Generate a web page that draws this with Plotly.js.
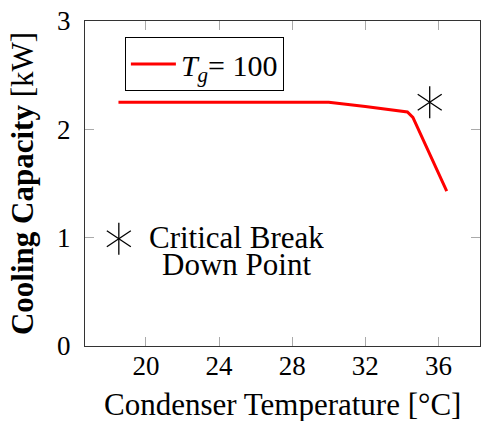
<!DOCTYPE html>
<html>
<head>
<meta charset="utf-8">
<script src="https://cdn.plot.ly/plotly-3.0.1.min.js"></script>
<style>html,body{margin:0;padding:0;background:#fff;}#chart{width:481px;height:421px;}</style>
</head>
<body>
<div id="chart"></div>
<script>
// Data
const condTemp = [18.5, 30.0, 32.0, 34.3, 34.6, 36.45];
const coolingCap = [2.25, 2.25, 2.21, 2.16, 2.11, 1.43];
const breakX = [35.52];
const breakY = [2.25];
const keyX = [18.52];
const keyY = [0.99];
const xTicks = [20, 24, 28, 32, 36];
const yTicks = [0, 1, 2, 3];
const seriesName = '<i>T</i><sub><i>g</i></sub>= 100';
const xTitle = 'Condenser Temperature [°C]';
const yTitle = '<b>Cooling Capacity</b> [kW]';
const noteLines = ['Critical Break', 'Down Point'];

const FONT = "Liberation Serif";

const starMarker = (sym) => ({symbol: sym, size: 20, color: '#000', line: {color: '#000', width: 1.3}});

const traces = [
  {x: condTemp, y: coolingCap, type: 'scatter', mode: 'lines', name: seriesName,
   line: {color: '#ff0000', width: 3}},
  {x: breakX.concat(keyX), y: breakY.concat(keyY), type: 'scatter', mode: 'markers', showlegend: false,
   marker: starMarker('y-up-open'), hoverinfo: 'skip'},
  {x: breakX.concat(keyX), y: breakY.concat(keyY), type: 'scatter', mode: 'markers', showlegend: false,
   marker: starMarker('y-down-open'), hoverinfo: 'skip'}
];

const layout = {
  width: 481, height: 421,
  margin: {l: 85, r: 1, t: 21, b: 75},
  paper_bgcolor: '#fff', plot_bgcolor: '#fff',
  font: {family: FONT, color: '#000', size: 27},
  showlegend: true,
  legend: {x: 0.101, y: 0.951, xanchor: 'left', yanchor: 'top', itemwidth: 45,
           bordercolor: '#000', borderwidth: 1, bgcolor: '#fff',
           font: {family: FONT, size: 30, color: '#000'}},
  xaxis: {
    range: [16.67, 38.27], tickvals: xTicks, ticktext: xTicks.map(String),
    ticks: 'inside', ticklen: 9, tickcolor: '#aaa', tickwidth: 1,
    showline: true, linecolor: '#333', linewidth: 1, mirror: 'ticks',
    showgrid: false, zeroline: false, ticklabelstandoff: -4,
    tickfont: {family: FONT, size: 27, color: '#000'}
  },
  yaxis: {
    range: [0, 3], tickvals: yTicks, ticktext: yTicks.map(String),
    ticks: 'inside', ticklen: 9, tickcolor: '#aaa', tickwidth: 1,
    showline: true, linecolor: '#333', linewidth: 1, mirror: 'ticks',
    showgrid: false, zeroline: false, ticklabelstandoff: 8,
    tickfont: {family: FONT, size: 27, color: '#000'},
    title: {text: yTitle, font: {family: FONT, size: 31, color: '#000'}, standoff: 14}
  },
  annotations: [
    {x: 0.5, y: -0.2308, xref: 'paper', yref: 'paper', text: xTitle, showarrow: false,
     xanchor: 'center', yanchor: 'bottom', yshift: -3, font: {family: FONT, size: 31, color: '#000'}},
    {x: 24.97, y: 1.0, xref: 'x', yref: 'y', text: noteLines[0], showarrow: false, height: 27,
     xanchor: 'center', yanchor: 'middle', font: {family: FONT, size: 31, color: '#000'}},
    {x: 24.97, y: 0.753, xref: 'x', yref: 'y', text: noteLines[1], showarrow: false, height: 27,
     xanchor: 'center', yanchor: 'middle', font: {family: FONT, size: 31, color: '#000'}}
  ]
};

Plotly.newPlot('chart', traces, layout, {displayModeBar: false, staticPlot: true});
</script>
</body>
</html>
